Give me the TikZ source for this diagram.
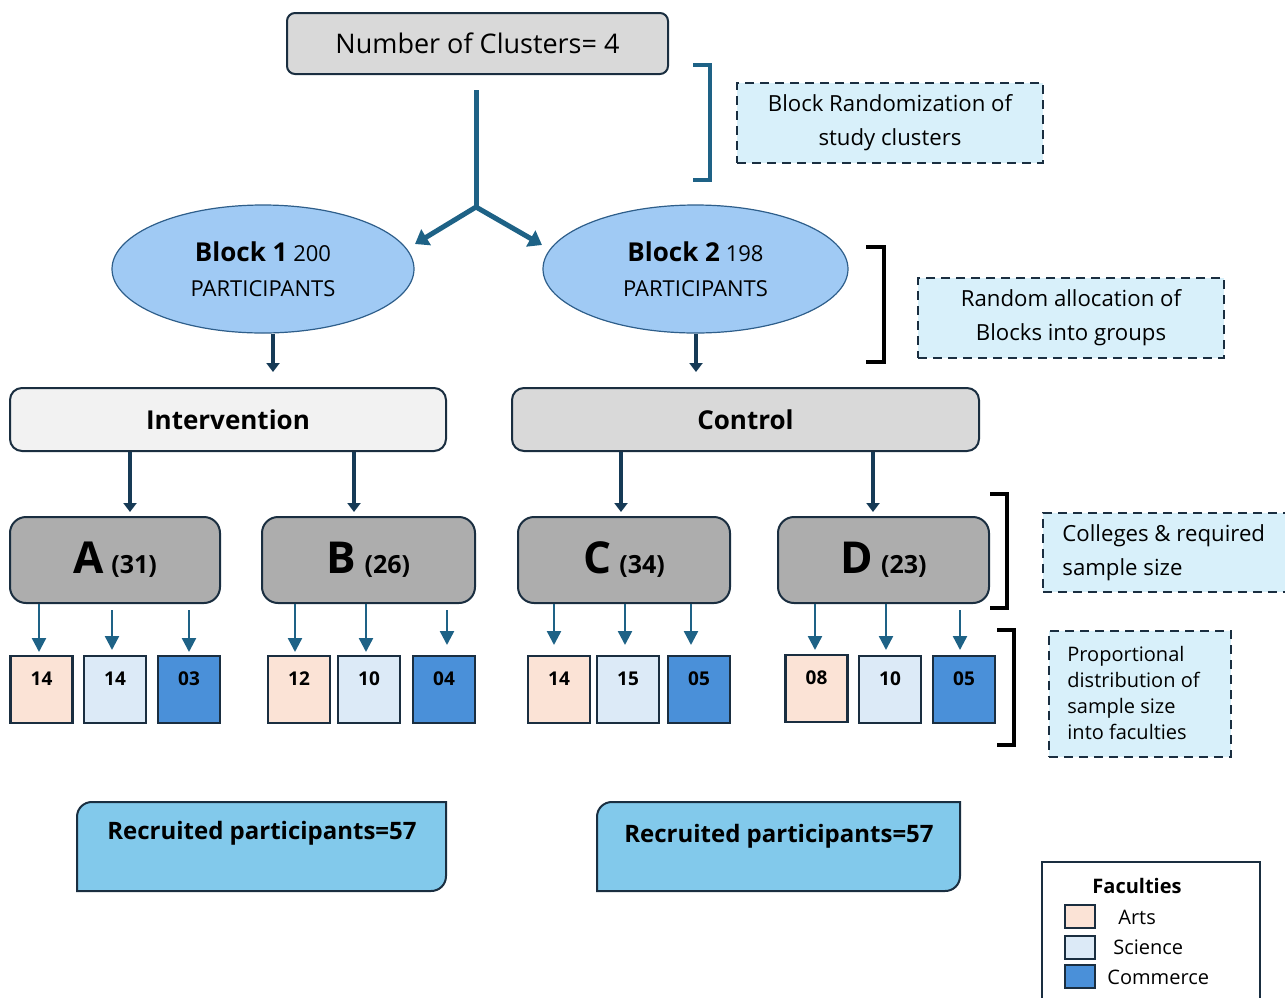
\documentclass[tikz,border=0pt]{standalone}
\usepackage{fontspec}
\setmainfont{Open Sans}
\usetikzlibrary{arrows.meta,shapes.geometric}
\definecolor{navy}{HTML}{1A2E40}
\definecolor{tealarr}{HTML}{1E6286}
\definecolor{darkarr}{HTML}{163A56}
\definecolor{ellfill}{HTML}{A0CAF4}
\definecolor{ellline}{HTML}{2E5E8A}
\definecolor{dashfill}{HTML}{D8F0FA}
\definecolor{recfill}{HTML}{82C9EB}
\definecolor{collgrey}{HTML}{ADADAD}
\definecolor{ctrlgrey}{HTML}{D9D9D9}
\definecolor{intgrey}{HTML}{F2F2F2}
\definecolor{arts}{HTML}{FBE3D6}
\definecolor{science}{HTML}{DCEAF7}
\definecolor{commerce}{HTML}{4A90D9}
\tikzset{
  rbox/.style={draw=navy, line width=1pt, rounded corners=4pt, inner sep=0pt, align=center},
  collbox/.style={draw=navy, line width=1pt, rounded corners=8pt, fill=collgrey, inner sep=0pt,
     minimum height=43pt, font=\bfseries},
  facbox/.style={draw=navy, line width=1.1pt, inner sep=0pt, minimum width=31pt, minimum height=33.5pt},
  factext/.style={font=\fontsize{9.5}{11}\selectfont\bfseries, inner sep=0pt},
  dashbox/.style={draw=navy, line width=0.8pt, dash pattern=on 4.5pt off 3pt, fill=dashfill, inner sep=0pt},
  ellnode/.style={ellipse, draw=ellline, line width=0.6pt, fill=ellfill, inner sep=0pt, align=center,
     font=\fontsize{11}{17.5}\selectfont},
  bigline/.style={draw=tealarr, line width=2.5pt},
  bigarr/.style={draw=tealarr, line width=2.5pt, -{Triangle[length=6.5pt,width=9pt]}},
  darrow/.style={draw=darkarr, line width=2.2pt, -{Triangle[length=4.5pt,width=6.5pt]}},
  sarrow/.style={draw=tealarr, line width=1.2pt, -{Triangle[length=7pt,width=7pt]}},
  brk/.style={line width=1.6pt},
  rectext/.style={font=\fontsize{12}{14}\selectfont\bfseries, inner sep=0pt},
}
\newcommand{\collt}[2]{{\fontsize{22}{22}\selectfont #1}\hspace{4pt}{\fontsize{12.5}{13}\selectfont (#2)}}
\begin{document}
\begin{tikzpicture}[x=0.5pt,y=-0.5pt]
\useasboundingbox (0,0) rectangle (1285,997);

% top box
\node[rbox, fill=ctrlgrey, minimum width=190.5pt, minimum height=30.5pt,
  font=\fontsize{13.5}{15}\selectfont] (top) at (477.5,43.5) {Number of Clusters= 4};

% bracket 1 and dashed box 1
\draw[brk, draw=tealarr] (693,65) -- (710,65) -- (710,180) -- (693,180);
\node[dashbox, minimum width=153pt, minimum height=40pt, align=center,
  font=\fontsize{11.1}{17}\selectfont] (d1) at (890,123) {Block Randomization of\\study clusters};

% ellipses
\node[ellnode, minimum width=151pt, minimum height=64pt] (e1) at (263,269)
  {{\fontsize{13}{17.5}\selectfont\bfseries Block 1} 200\\PARTICIPANTS};
\node[ellnode, minimum width=152.5pt, minimum height=64pt] (e2) at (695.5,269)
  {{\fontsize{13}{17.5}\selectfont\bfseries Block 2} 198\\PARTICIPANTS};

% Y split arrows
\coordinate (ys) at (476,90);
\coordinate (split) at (476,207);
\coordinate (e1t) at (415,244);
\coordinate (e2t) at (542,245);
\draw[bigline] (ys) -- (split);
\draw[bigarr] (split) -- (e1t);
\draw[bigarr] (split) -- (e2t);

% bracket 2 and dashed box 2
\draw[brk] (866,247) -- (884,247) -- (884,362) -- (866,362);
\node[dashbox, minimum width=153pt, minimum height=40pt, align=center,
  font=\fontsize{11.1}{17}\selectfont] (d2) at (1071,318) {Random allocation of\\Blocks into groups};

% groups
\node[rbox, fill=intgrey, rounded corners=6pt, minimum width=218pt, minimum height=31.5pt,
  font=\fontsize{13}{15}\selectfont\bfseries] (int) at (228,419.5) {Intervention};
\node[rbox, fill=ctrlgrey, rounded corners=6pt, minimum width=233.5pt, minimum height=31.5pt,
  font=\fontsize{13}{15}\selectfont\bfseries] (ctl) at (745.5,419.5) {Control};

\coordinate (e1b) at (273,334);
\coordinate (e2b) at (696,334);
\coordinate (i1) at (273,372);
\coordinate (c1) at (696,372);
\draw[darrow] (e1b) -- (i1);
\draw[darrow] (e2b) -- (c1);

% colleges
\node[collbox, minimum width=105pt] (A) at (115,560) {\collt{A}{31}};
\node[collbox, minimum width=106.5pt] (B) at (368.5,560) {\collt{B}{26}};
\node[collbox, minimum width=106pt] (C) at (624,560) {\collt{C}{34}};
\node[collbox, minimum width=105.5pt] (D) at (883.5,560) {\collt{D}{23}};

\foreach \x in {130,354,621,873}{
  \draw[darrow] (\x,452) -- (\x,512);
}

% faculty boxes
\foreach \nm/\x/\y/\c/\t in {a1/41.5/689.5/arts/14, a2/115/689.5/science/14, a3/189/689.5/commerce/03,
  b1/299/689.5/arts/12, b2/369/689.5/science/10, b3/444/689.5/commerce/04,
  c1/559/689.5/arts/14, c2/628/689.5/science/15, c3/699/689.5/commerce/05,
  d1/816.5/688.5/arts/08, d2/890/689.5/science/10, d3/964/689.5/commerce/05}{
  \node[facbox, fill=\c] (\nm) at (\x,\y) {};
  \node[factext] (\nm t) at (\x,\y-10.5) {\t};
}

% small arrows
\foreach \x/\ya/\yb in {39/604/652, 112/610/650, 189/610/652,
  295/604/652, 366/604/652, 447/610/645,
  554/604/645, 625/604/645, 691/604/645,
  815/604/650, 886/604/650, 960/610/650}{
  \draw[sarrow] (\x,\ya) -- (\x,\yb);
}

% brackets 3,4 and dashed boxes
\draw[brk] (990,494) -- (1007,494) -- (1007,608) -- (990,608);
\draw[brk] (997,630) -- (1014,630) -- (1014,745) -- (997,745);
\node[dashbox, minimum width=125pt, minimum height=39.5pt, anchor=north west] (d3) at (1042,512) {};
\node[font=\fontsize{11.1}{17}\selectfont, align=left, anchor=west, inner sep=0pt] (d3t) at (1062,553)
  {Colleges \& required\\sample size};
\node[dashbox, minimum width=91pt, minimum height=63pt, anchor=north west] (d4) at (1048,630) {};
\node[font=\fontsize{10}{13}\selectfont, align=left, anchor=west, inner sep=0pt] (d4t) at (1067,693)
  {Proportional\\distribution of\\sample size\\into faculties};

% recruited boxes
\fill[recfill] (77,891) -- (77,817) .. controls (77,808) and (84,802) .. (92,802) -- (446,802)
  -- (446,876) .. controls (446,885) and (439,891) .. (431,891) -- cycle;
\draw[navy, line width=1pt] (77,891) -- (77,817) .. controls (77,808) and (84,802) .. (92,802) -- (446,802)
  -- (446,876) .. controls (446,885) and (439,891) .. (431,891) -- cycle;
\node[rectext] (r1) at (262,833) {Recruited participants=57};
\fill[recfill] (597,891) -- (597,817) .. controls (597,808) and (604,802) .. (612,802) -- (960,802)
  -- (960,876) .. controls (960,885) and (953,891) .. (945,891) -- cycle;
\draw[navy, line width=1pt] (597,891) -- (597,817) .. controls (597,808) and (604,802) .. (612,802) -- (960,802)
  -- (960,876) .. controls (960,885) and (953,891) .. (945,891) -- cycle;
\node[rectext] (r2) at (779,836) {Recruited participants=57};

% legend
\draw[navy, line width=1.1pt, fill=white] (1042,1010) -- (1042,862) -- (1260,862) -- (1260,1010);
\node[font=\fontsize{10}{12}\selectfont\bfseries, inner sep=0pt] (lt) at (1137,886) {Faculties};
\node[facbox, fill=arts, minimum width=15pt, minimum height=11.5pt] (la) at (1080,916.5) {};
\node[facbox, fill=science, minimum width=15pt, minimum height=11.5pt] (ls) at (1080,947.5) {};
\node[facbox, fill=commerce, minimum width=15pt, minimum height=11.5pt] (lc) at (1080,976.5) {};
\node[font=\fontsize{10}{12}\selectfont, anchor=west, inner sep=0pt] (lat) at (1118,917) {Arts};
\node[font=\fontsize{10}{12}\selectfont, anchor=west, inner sep=0pt] (lst) at (1113,947) {Science};
\node[font=\fontsize{10}{12}\selectfont, anchor=west, inner sep=0pt] (lct) at (1107,977) {Commerce};
\end{tikzpicture}
\end{document}
